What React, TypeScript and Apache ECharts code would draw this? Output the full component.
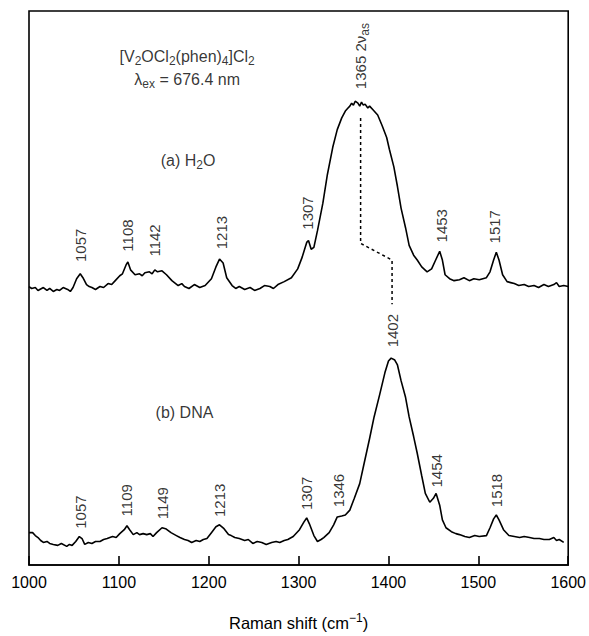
import React, { useEffect, useRef } from "react";
import * as echarts from "echarts";

// Raman shift axis
const xTicks = [1000, 1100, 1200, 1300, 1400, 1500, 1600];

// (a) H2O spectrum
const h2oShift = [1000, 1003, 1007, 1010, 1012, 1016, 1020, 1023, 1027, 1031, 1034, 1038, 1043, 1046, 1049, 1053, 1057, 1060, 1064, 1067, 1070, 1074, 1079, 1083, 1088, 1092, 1096, 1101, 1104, 1108, 1110, 1113, 1118, 1123, 1126, 1129, 1134, 1137, 1140, 1143, 1148, 1153, 1159, 1166, 1170, 1173, 1178, 1184, 1190, 1196, 1203, 1208, 1212, 1216, 1220, 1226, 1230, 1234, 1240, 1246, 1251, 1257, 1262, 1268, 1272, 1277, 1284, 1292, 1299, 1304, 1309, 1311, 1314, 1317, 1321, 1327, 1332, 1338, 1343, 1348, 1352, 1355, 1357, 1359, 1361, 1363, 1366, 1368, 1370, 1372, 1374, 1377, 1379, 1383, 1388, 1393, 1398, 1401, 1406, 1410, 1414, 1419, 1423, 1428, 1432, 1437, 1443, 1448, 1452, 1457, 1460, 1463, 1468, 1473, 1479, 1484, 1490, 1495, 1501, 1509, 1513, 1517, 1520, 1523, 1527, 1532, 1536, 1540, 1545, 1551, 1556, 1562, 1567, 1573, 1578, 1584, 1587, 1590, 1595, 1600];
const h2oIntensity = [284, 282, 283, 280, 281, 283, 280, 282, 279, 281, 280, 283, 281, 279, 283, 292, 297, 293, 286, 284, 283, 281, 284, 283, 287, 286, 290, 295, 297, 306, 309, 301, 296, 297, 295, 298, 299, 297, 301, 299, 300, 296, 290, 285, 287, 284, 282, 286, 283, 285, 292, 304, 312, 308, 293, 285, 282, 284, 281, 283, 280, 282, 285, 284, 282, 286, 289, 293, 302, 314, 329, 331, 322, 324, 341, 369, 398, 426, 444, 456, 463, 466, 468, 471, 469, 473, 471, 468, 472, 469, 470, 466, 468, 464, 459, 448, 436, 424, 406, 386, 364, 344, 326, 316, 311, 304, 299, 302, 310, 320, 311, 296, 292, 290, 291, 293, 290, 292, 291, 293, 299, 311, 319, 311, 296, 289, 288, 287, 285, 286, 284, 285, 283, 286, 284, 286, 288, 284, 285, 284];

// (b) DNA spectrum
const dnaShift = [1000, 1004, 1007, 1010, 1013, 1016, 1020, 1023, 1027, 1032, 1036, 1042, 1045, 1048, 1052, 1056, 1059, 1062, 1066, 1070, 1074, 1079, 1083, 1087, 1093, 1097, 1101, 1106, 1109, 1112, 1116, 1120, 1123, 1127, 1131, 1135, 1138, 1142, 1148, 1152, 1158, 1164, 1168, 1173, 1177, 1181, 1186, 1190, 1194, 1198, 1203, 1208, 1212, 1217, 1222, 1225, 1229, 1234, 1240, 1244, 1249, 1254, 1259, 1264, 1270, 1275, 1279, 1284, 1288, 1294, 1301, 1306, 1309, 1312, 1317, 1321, 1325, 1328, 1334, 1339, 1343, 1348, 1352, 1357, 1362, 1368, 1373, 1379, 1384, 1390, 1396, 1400, 1403, 1407, 1410, 1414, 1419, 1423, 1428, 1432, 1437, 1441, 1446, 1450, 1453, 1457, 1460, 1464, 1470, 1475, 1479, 1485, 1490, 1496, 1501, 1509, 1513, 1517, 1520, 1523, 1528, 1534, 1540, 1546, 1551, 1557, 1562, 1568, 1573, 1579, 1584, 1587, 1590, 1595, 1600];
const dnaIntensity = [33, 33, 30, 28, 25, 23, 24, 22, 21, 20, 22, 19, 21, 20, 24, 29, 27, 21, 23, 22, 24, 24, 26, 27, 29, 28, 32, 36, 40, 36, 31, 33, 31, 32, 31, 32, 29, 33, 38, 37, 33, 30, 28, 26, 25, 23, 25, 24, 26, 27, 33, 39, 41, 37, 31, 30, 28, 27, 25, 26, 22, 24, 23, 21, 23, 24, 23, 25, 26, 29, 36, 44, 48, 42, 30, 24, 26, 28, 33, 41, 49, 50, 51, 56, 68, 83, 104, 129, 151, 173, 196, 208, 211, 209, 204, 188, 171, 151, 131, 114, 91, 73, 64, 68, 73, 61, 46, 38, 34, 32, 31, 29, 28, 30, 29, 30, 38, 47, 51, 46, 36, 30, 29, 28, 29, 28, 27, 27, 26, 26, 28, 25, 26, 23];

// peak labels (a)
const h2oPeakShift = [1057, 1110, 1140, 1214, 1310, 1369, 1459, 1518];
const h2oPeakLabelY = [326, 336, 331, 339, 359, 519, 346, 345];
const h2oPeakText = ["1057", "1108", "1142", "1213", "1307", "1365 2ν{sub|as}", "1453", "1517"];

// peak labels (b)
const dnaPeakShift = [1057, 1109, 1149, 1212, 1309, 1344, 1404, 1454, 1520];
const dnaPeakLabelY = [54, 66, 63, 66, 73, 76, 239, 96, 76];
const dnaPeakText = ["1057", "1109", "1149", "1213", "1307", "1346", "1402", "1454", "1518"];

// correlation (dashed) line between 2ν_as bands
const linkShift = [1369, 1369, 1404, 1404];
const linkY = [456, 328, 311, 266];

// annotation texts
const noteShift = [1176, 1176, 1177, 1173];
const noteY = [519, 495, 413, 156];
const noteText = [
  "[V{sub|2}OCl{sub|2}(phen){sub|4}]Cl{sub|2}",
  "λ{sub|ex} = 676.4 nm",
  "(a) H{sub|2}O",
  "(b) DNA",
];

const FONT = "'Liberation Sans', Arial, Helvetica, sans-serif";

const rich = {
  sub: { fontSize: 12, fontFamily: FONT, color: "#000", padding: [9, 0, 0, 0] },
  sup: { fontSize: 12, fontFamily: FONT, color: "#000", padding: [0, 0, 9, 0] },
};

export default function App() {
  const ref = useRef<HTMLDivElement>(null);
  useEffect(() => {
    if (!ref.current) return;
    const chart = echarts.init(ref.current, null, { renderer: "svg" });
    const zip = (a: number[], b: number[]) => a.map((v, i) => [v, b[i]]);
    const labelData = (xs: number[], ys: number[], ts: string[], rotate: number) =>
      xs.map((x, i) => ({
        value: [x, ys[i]],
        name: ts[i],
        label: { rotate },
      }));
    chart.setOption({
      animation: false,
      grid: {
        left: 29,
        right: 20,
        top: 11,
        bottom: 60,
        show: true,
        borderColor: "#000",
        borderWidth: 1.6,
      },
      xAxis: {
        type: "value",
        min: xTicks[0],
        max: xTicks[xTicks.length - 1],
        interval: 100,
        name: "Raman shift (cm{sup|−1})",
        nameLocation: "middle",
        nameGap: 47,
        nameTextStyle: { fontSize: 16.5, fontFamily: FONT, color: "#000", rich },
        axisLine: { show: true, lineStyle: { color: "#000", width: 1.6 } },
        axisTick: { show: true, inside: true, length: 9, lineStyle: { color: "#000", width: 1.6 } },
        axisLabel: {
          fontSize: 16,
          fontFamily: FONT,
          color: "#000",
          margin: 9,
          formatter: (v: number) => String(v),
        },
        splitLine: { show: false },
      },
      yAxis: {
        type: "value",
        min: 0,
        max: 565,
        show: false,
        splitLine: { show: false },
      },
      series: [
        {
          type: "line",
          data: zip(h2oShift, h2oIntensity),
          showSymbol: false,
          lineStyle: { color: "#000", width: 1.6 },
          silent: true,
        },
        {
          type: "line",
          data: zip(dnaShift, dnaIntensity),
          showSymbol: false,
          lineStyle: { color: "#000", width: 1.6 },
          silent: true,
        },
        {
          type: "line",
          data: zip(linkShift, linkY),
          showSymbol: false,
          lineStyle: { color: "#000", width: 1.5, type: [3, 3] },
          silent: true,
        },
        {
          type: "scatter",
          symbolSize: 0,
          silent: true,
          data: [
            ...labelData(h2oPeakShift, h2oPeakLabelY, h2oPeakText, 90),
            ...labelData(dnaPeakShift, dnaPeakLabelY, dnaPeakText, 90),
          ],
          label: {
            show: true,
            position: "inside",
            align: "center",
            verticalAlign: "middle",
            formatter: (p: any) => p.name,
            fontSize: 15,
            fontFamily: FONT,
            color: "#000",
            rich,
          },
        },
        {
          type: "scatter",
          symbolSize: 0,
          silent: true,
          data: labelData(noteShift, noteY, noteText, 0),
          label: {
            show: true,
            position: "inside",
            align: "center",
            verticalAlign: "middle",
            formatter: (p: any) => p.name,
            fontSize: 16,
            fontFamily: FONT,
            color: "#000",
            rich,
          },
        },
      ],
    });
    return () => chart.dispose();
  }, []);
  return (
    <div
      ref={ref}
      style={{ position: "fixed", left: 0, top: 0, width: 589, height: 636, background: "#fff" }}
    />
  );
}
